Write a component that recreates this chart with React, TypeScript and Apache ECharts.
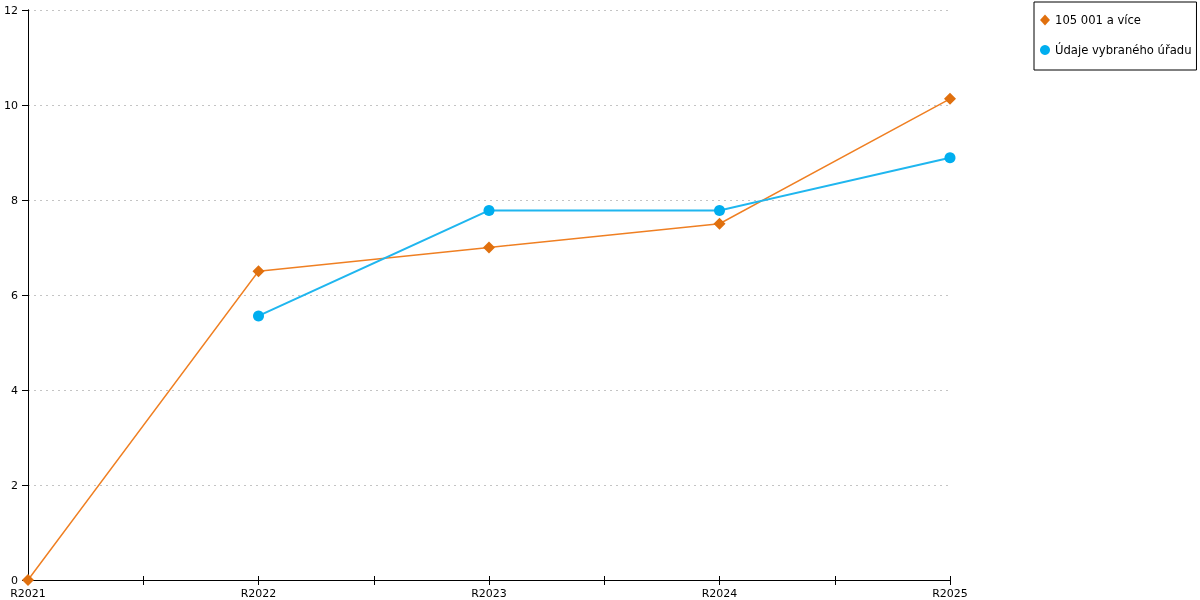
import React, { useEffect, useRef } from "react";
import * as echarts from "echarts";

const categories = ["R2021", "R2022", "R2023", "R2024", "R2025"];
const seriesNames = ["105 001 a více", "Údaje vybraného úřadu"];
const orangeValues: (number | null)[] = [0, 6.5, 7.0, 7.5, 10.13];
const blueValues: (number | null)[] = [null, 5.56, 7.78, 7.78, 8.89];

const FONT = "DejaVu Sans";

export default function App() {
  const ref = useRef<HTMLDivElement>(null);
  useEffect(() => {
    if (!ref.current) return;
    const chart = echarts.init(ref.current, undefined, { renderer: "svg" });
    const tickAxisBase = {
      type: "value" as const,
      position: "bottom" as const,
      min: 0,
      max: categories.length - 1,
      interval: 0.5,
      axisLabel: { show: false },
      splitLine: { show: false },
    };
    chart.setOption({
      animation: false,
      textStyle: { fontFamily: FONT },
      grid: { left: 28, right: 250, top: 10, bottom: 20, containLabel: false },
      legend: {
        orient: "vertical",
        left: 1034,
        top: 2,
        padding: [12, 5, 14, 6],
        itemWidth: 10,
        itemHeight: 11,
        itemGap: 18,
        borderColor: "#000",
        borderWidth: 1,
        textStyle: { fontFamily: FONT, fontSize: 11.6, color: "#000" },
        data: [
          { name: seriesNames[0], icon: "diamond", itemStyle: { color: "#e0700e" } },
          { name: seriesNames[1], icon: "circle", itemStyle: { color: "#00aeef" } },
        ],
      },
      xAxis: [
        {
          type: "category",
          data: categories,
          boundaryGap: false,
          position: "bottom",
          axisLine: { show: true, lineStyle: { color: "#000", width: 1 } },
          axisTick: { show: false },
          axisLabel: { color: "#000", fontSize: 11, fontFamily: FONT, margin: 8 },
          splitLine: { show: false },
        },
        {
          ...tickAxisBase,
          axisLine: { show: false },
          axisTick: { show: true, inside: true, length: 4, lineStyle: { color: "#000" } },
        },
        {
          ...tickAxisBase,
          axisLine: { show: false },
          axisTick: { show: true, inside: false, length: 5, lineStyle: { color: "#000" } },
        },
      ],
      yAxis: [
        {
          type: "value",
          min: 0,
          max: 12,
          interval: 2,
          axisLine: { show: true, lineStyle: { color: "#000", width: 1 } },
          axisTick: { show: true, inside: false, length: 6, lineStyle: { color: "#000" } },
          axisLabel: { color: "#000", fontSize: 11, fontFamily: FONT, margin: 10 },
          splitLine: {
            show: true,
            showMinLine: false,
            lineStyle: { color: "#c4c4c4", type: [2, 4], width: 1 },
          },
        },
        {
          type: "value",
          position: "right",
          min: 0,
          max: 12,
          interval: 2,
          axisLine: { show: true, lineStyle: { color: "#000", width: 1 } },
          axisTick: { show: false },
          axisLabel: { show: false },
          splitLine: { show: false },
        },
      ],
      series: [
        {
          name: seriesNames[0],
          type: "line",
          data: orangeValues,
          xAxisIndex: 0,
          yAxisIndex: 0,
          symbol: "diamond",
          symbolSize: 12,
          connectNulls: false,
          lineStyle: { color: "#ef7f22", width: 1.5 },
          itemStyle: { color: "#e0700e" },
          z: 3,
        },
        {
          name: seriesNames[1],
          type: "line",
          data: blueValues,
          xAxisIndex: 0,
          yAxisIndex: 0,
          symbol: "circle",
          symbolSize: 11,
          connectNulls: false,
          lineStyle: { color: "#1fb6ef", width: 2 },
          itemStyle: { color: "#00aeef" },
          z: 4,
        },
      ],
    });
    return () => chart.dispose();
  }, []);
  return (
    <div
      ref={ref}
      style={{ position: "fixed", left: 0, top: 0, width: 1200, height: 600 }}
    />
  );
}
